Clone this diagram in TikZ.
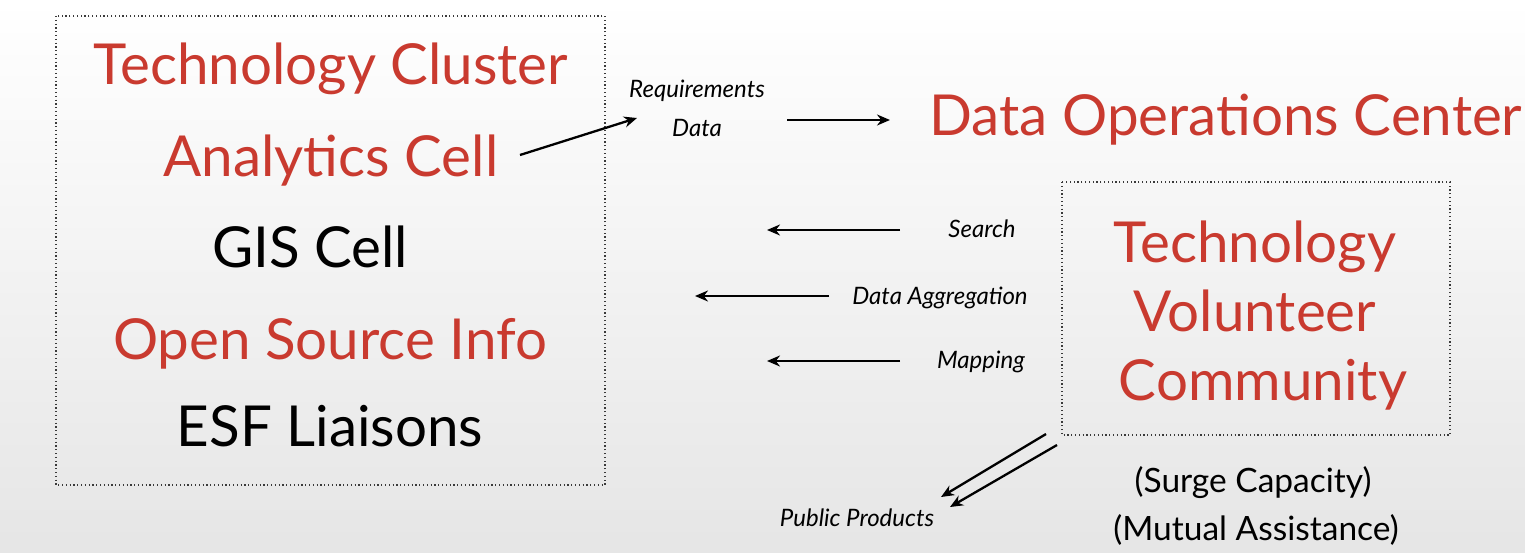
\documentclass[tikz,border=0pt]{standalone}
\usepackage{fontspec}
\setmainfont{Lato}
\usetikzlibrary{arrows.meta}
\definecolor{titlered}{HTML}{C93A2F}
\definecolor{boxline}{HTML}{3A3A3A}
\begin{document}
\begin{tikzpicture}[x=1pt,y=-1pt,
  big/.style={anchor=base,inner sep=0pt,font=\fontsize{56.5}{60}\selectfont},
  mid/.style={anchor=base,inner sep=0pt,font=\fontsize{33.5}{36}\selectfont},
  small/.style={anchor=base,inner sep=0pt,font=\itshape\fontsize{24}{27}\selectfont},
  frame/.style={draw=boxline,line width=1.4pt,dash pattern=on 1.2pt off 2.6pt},
  flow/.style={draw=black,line width=2.3pt,-{Stealth[length=13pt,width=11pt]}}]
  % backdrop
  \shade[top color=white,bottom color=black!10] (0,0) rectangle (1525,553);
  \useasboundingbox (0,0) rectangle (1525,553);

  % technology cluster frame
  \draw[frame] (56,16) rectangle (605,485);
  \node[big,text=titlered] (tc) at (331,85) {Technology Cluster};
  \node[big,text=titlered] (ac) at (331,177) {Analytics Cell};
  \node[big,text=black] (gis) at (310,268) {GIS Cell};
  \node[big,text=titlered] (osi) at (330,359) {Open Source Info};
  \node[big,text=black] (esf) at (330,446) {ESF Liaisons};

  % requirements / data
  \node[small] (req) at (697,98) {Requirements};
  \node[small] (dat) at (697,137) {Data};
  \node[big,text=titlered] (doc) at (1226,136) {Data Operations Center};
  \coordinate (acR) at (520,155);
  \coordinate (reqL) at (637,118);
  \coordinate (datR) at (787,120);
  \coordinate (docL) at (890,120);
  \draw[flow] (acR) -- (reqL);
  \draw[flow] (datR) -- (docL);

  % volunteer community frame
  \draw[frame] (1062,182) rectangle (1450,435);
  \node[big,text=titlered] (tv1) at (1255,262) {Technology};
  \node[big,text=titlered] (tv2) at (1255,331) {Volunteer};
  \node[big,text=titlered] (tv3) at (1263,400) {Community};
  \node[mid] (surge) at (1253,492) {(Surge Capacity)};
  \node[mid] (mutual) at (1256,540) {(Mutual Assistance)};

  % services flowing back
  \node[small] (srch) at (982,238) {Search};
  \node[small] (agg) at (940,304) {Data Aggregation};
  \node[small] (map) at (981,368) {Mapping};
  \coordinate (s1) at (900,230);
  \coordinate (s2) at (767,230);
  \coordinate (a1) at (829,296);
  \coordinate (a2) at (695,296);
  \coordinate (m1) at (900,361);
  \coordinate (m2) at (767,361);
  \draw[flow] (s1) -- (s2);
  \draw[flow] (a1) -- (a2);
  \draw[flow] (m1) -- (m2);

  % public products
  \node[small] (pub) at (857,526) {Public Products};
  \coordinate (p1a) at (1046,434);
  \coordinate (p1b) at (941,497);
  \coordinate (p2a) at (1057,445);
  \coordinate (p2b) at (950,507);
  \draw[flow] (p1a) -- (p1b);
  \draw[flow] (p2a) -- (p2b);
\end{tikzpicture}
\end{document}
